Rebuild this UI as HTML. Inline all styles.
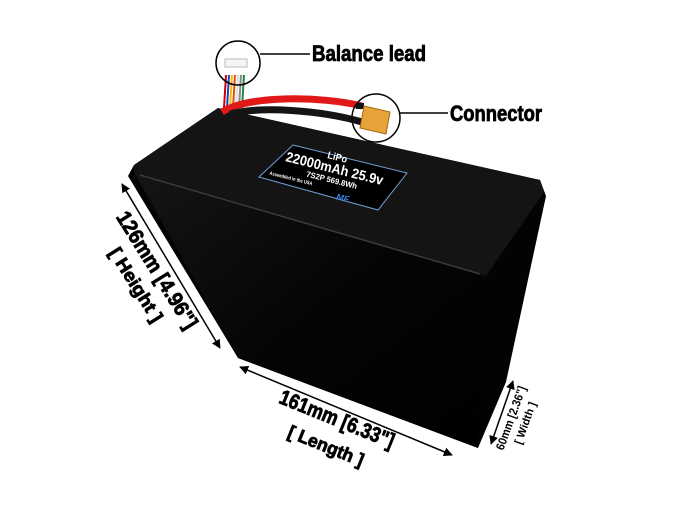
<!DOCTYPE html>
<html><head><style>
html,body{margin:0;padding:0;background:#fff;width:686px;height:511px;overflow:hidden}
svg text{font-family:"Liberation Sans",sans-serif;font-weight:bold;fill:#000}
.t{stroke:#000;stroke-width:0.8}
</style></head><body>
<svg width="686" height="511" viewBox="0 0 686 511" xmlns="http://www.w3.org/2000/svg">
<defs>
<linearGradient id="front" x1="0" y1="0" x2="1" y2="1">
<stop offset="0" stop-color="#151515"/><stop offset="0.5" stop-color="#050505"/><stop offset="1" stop-color="#000"/>
</linearGradient>
<marker id="ar" viewBox="0 0 10 10" refX="9" refY="5" markerWidth="6" markerHeight="6" orient="auto-start-reverse"><path d="M0,0L10,5L0,10z" fill="#000"/></marker>
</defs>
<g stroke-width="2">
<line x1="226" y1="75" x2="224" y2="108" stroke="#c00"/>
<line x1="229" y1="75" x2="227" y2="108" stroke="#1a3fcf"/>
<line x1="232" y1="75" x2="230" y2="108" stroke="#f0c000"/>
<line x1="235" y1="75" x2="233" y2="108" stroke="#e05010"/>
<line x1="238" y1="75" x2="236" y2="108" stroke="#ddd"/>
<line x1="241" y1="75" x2="239" y2="108" stroke="#888"/>
<line x1="244" y1="75" x2="242" y2="108" stroke="#1a8a3a"/>
</g>
<rect x="225" y="59" width="22" height="8" fill="#f4f4f4" stroke="#bbb" stroke-width="1"/>
<polygon points="218,108 540,180 546,196 506,382 478,448 238,358 128,176 134,165" fill="#030303"/>
<polygon points="218,108 540,180 544,192 486,276 134,172 134,165" fill="#141414"/>
<polygon points="134,172 486,276 478,448 238,358" fill="url(#front)"/>
<line x1="140" y1="175" x2="480" y2="274" stroke="#3a3a3a" stroke-width="1.5"/>
<path d="M222,112 C250,95 320,96 362,106" stroke="#e01818" stroke-width="7" fill="none"/>
<path d="M230,114 C260,106 320,110 362,122" stroke="#151515" stroke-width="7" fill="none"/>
<rect x="356" y="103" width="8" height="6" fill="#111"/>
<rect x="356" y="118" width="8" height="6" fill="#111"/>
<polygon points="364,106 390,112 386,134 360,128" fill="#e6a33a" stroke="#a86a10" stroke-width="1"/>
<circle cx="238" cy="63" r="22" fill="none" stroke="#000" stroke-width="1.5"/>
<line x1="260" y1="54" x2="310" y2="54" stroke="#000" stroke-width="1.5"/>
<circle cx="376" cy="118" r="24" fill="none" stroke="#000" stroke-width="1.5"/>
<line x1="400" y1="113" x2="448" y2="113" stroke="#000" stroke-width="1.5"/>
<text class="t" x="312" y="61" font-size="22" textLength="114" lengthAdjust="spacingAndGlyphs">Balance lead</text>
<text class="t" x="450" y="121" font-size="22" textLength="92" lengthAdjust="spacingAndGlyphs">Connector</text>
<polygon points="293,145 407,173 378,210 259,177" fill="#000" stroke="#6fa0d8" stroke-width="1"/>
<g transform="translate(333,175) rotate(14)" text-anchor="middle">
<text x="0" y="-15" font-size="10" style="fill:#fff" textLength="20" lengthAdjust="spacingAndGlyphs">LiPo</text>
<text x="0" y="-2" font-size="14" style="fill:#fff" textLength="100" lengthAdjust="spacingAndGlyphs">22000mAh 25.9v</text>
<text x="0" y="8" font-size="8" style="fill:#fff" textLength="52" lengthAdjust="spacingAndGlyphs">7S2P 569.8Wh</text>
<text x="-40" y="15" font-size="5" style="fill:#fff" textLength="44" lengthAdjust="spacingAndGlyphs">Assembled in the USA</text>
<text x="15" y="23" font-size="9" style="fill:#3a7ad8;font-style:italic">MF</text>
</g>
<line x1="122" y1="184" x2="220" y2="348" stroke="#000" stroke-width="1.5" marker-start="url(#ar)" marker-end="url(#ar)"/>
<line x1="240" y1="367" x2="452" y2="455" stroke="#000" stroke-width="1.5" marker-start="url(#ar)" marker-end="url(#ar)"/>
<line x1="513" y1="381" x2="491" y2="444" stroke="#000" stroke-width="1.5" marker-start="url(#ar)" marker-end="url(#ar)"/>
<g transform="translate(157,270) rotate(58)" text-anchor="middle"><text class="t" y="7" font-size="21" textLength="134" lengthAdjust="spacingAndGlyphs">126mm [4.96"]</text></g>
<g transform="translate(136,285) rotate(58)" text-anchor="middle"><text class="t" y="6" font-size="18" textLength="84" lengthAdjust="spacingAndGlyphs">[ Height ]</text></g>
<g transform="translate(337,419) rotate(22)" text-anchor="middle"><text class="t" y="7" font-size="21" textLength="122" lengthAdjust="spacingAndGlyphs">161mm [6.33"]</text></g>
<g transform="translate(326,446) rotate(22)" text-anchor="middle"><text class="t" y="6" font-size="18" textLength="80" lengthAdjust="spacingAndGlyphs">[ Length ]</text></g>
<g transform="translate(511,418) rotate(-70)" text-anchor="middle"><text y="4" font-size="12" textLength="67" lengthAdjust="spacingAndGlyphs">60mm [2.36"]</text></g>
<g transform="translate(525,423) rotate(-70)" text-anchor="middle"><text y="4" font-size="11" textLength="44" lengthAdjust="spacingAndGlyphs">[ Width ]</text></g>
</svg>
</body></html>
